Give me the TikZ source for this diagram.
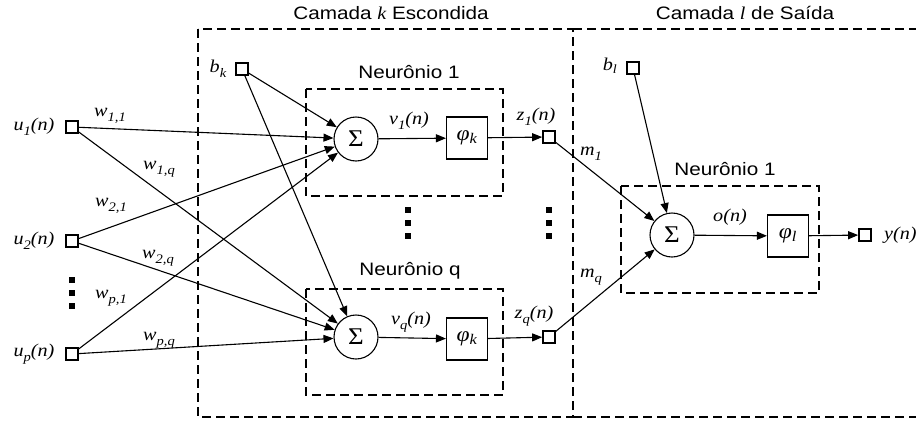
\documentclass[tikz,border=0pt]{standalone}
\usepackage{fontspec}
\setmainfont{Liberation Sans}[FakeStretch=1.15]
\newfontfamily\tm{Liberation Serif}[FakeStretch=1.12]
\usetikzlibrary{arrows.meta}
\newcommand{\ml}[1]{{\tm\itshape #1}}
\newcommand{\sbs}[1]{\raisebox{-0.25em}{\fontsize{13}{13}\selectfont #1}}
\tikzset{
  sqbox/.style={draw, line width=2.2pt, minimum size=11.5pt, inner sep=0pt},
  sig/.style={draw, circle, line width=1.1pt, minimum size=44pt, inner sep=0pt, font=\tm\fontsize{24}{24}\selectfont},
  phib/.style={draw, line width=1.1pt, minimum width=41pt, minimum height=42pt, inner sep=0pt, font=\tm\itshape\fontsize{21}{21}\selectfont},
  dbox/.style={draw, line width=1.4pt, dash pattern=on 9pt off 5pt},
  con/.style={line width=1.1pt},
  arr/.style={con, -{Triangle[length=10pt,width=8pt]}},
  lbl/.style={font=\tm\itshape\fontsize{18}{18}\selectfont, inner sep=0pt},
  ttl/.style={font=\fontsize{18}{18}\selectfont, inner sep=0pt},
  dotm/.style={fill, minimum size=6pt, inner sep=0pt},
}
\begin{document}
\begin{tikzpicture}[x=1pt, y=-1pt]
\useasboundingbox (0,0) rectangle (916,421);
\clip (0,0) rectangle (916,421);
% layer boxes
\draw[dbox] (198,29) rectangle (573,417);
\draw[dbox] (573,29) -- (940,29);
\draw[dbox] (573,417) -- (940,417);
\node[ttl] (t1) at (391,13) {Camada \ml{k} Escondida};
\node[ttl] (t2) at (745,13) {Camada \ml{l} de Saída};
% neuron boxes
\draw[dbox] (306,89) rectangle (503,196);
\draw[dbox] (306,289) rectangle (503,395);
\draw[dbox] (621,186) rectangle (819,293);
\node[ttl] (n1) at (409,72) {Neurônio 1};
\node[ttl] (nq) at (410,271) {Neurônio q};
\node[ttl] (no) at (725,169) {Neurônio 1};
% inputs
\node[sqbox] (u1) at (72,127) {};
\node[sqbox] (u2) at (72,241) {};
\node[sqbox] (up) at (72,354) {};
\node[lbl] (lu1) at (34,127) {u\sbs{1}(n)};
\node[lbl] (lu2) at (34,241) {u\sbs{2}(n)};
\node[lbl] (lup) at (34,354) {u\sbs{p}(n)};
\node[dotm] (d1) at (72,280) {};
\node[dotm] (d2) at (72,293) {};
\node[dotm] (d3) at (72,306) {};
\node[sqbox] (bk) at (242,69) {};
\node[lbl] (lbk) at (218,69) {b\sbs{k}};
% hidden neurons
\node[sig] (s1) at (356,139) {Σ};
\node[phib] (p1) at (467,138) {φ\textsubscript{k}};
\node[sqbox] (z1) at (549,137) {};
\node[sig] (sQ) at (356,337) {Σ};
\node[phib] (pQ) at (467,339) {φ\textsubscript{k}};
\node[sqbox] (zQ) at (549,337) {};
\node[dotm] (e1) at (408,210) {};
\node[dotm] (e2) at (408,223) {};
\node[dotm] (e3) at (408,236) {};
\node[dotm] (f1) at (549,210) {};
\node[dotm] (f2) at (549,223) {};
\node[dotm] (f3) at (549,236) {};
% output neuron
\node[sqbox] (bl) at (633,68) {};
\node[lbl] (lbl1) at (610,66) {b\textsubscript{l}};
\node[sig] (so) at (672,235) {Σ};
\node[phib] (po) at (788,236) {φ\textsubscript{l}};
\node[sqbox] (yy) at (865,235) {};
\node[lbl, anchor=west] (ly) at (884,235) {y(n)};
% connections
\draw[arr] (u1) -- (s1);
\draw[arr] (u1) -- (sQ);
\draw[arr] (u2) -- (s1);
\draw[arr] (u2) -- (sQ);
\draw[arr] (up) -- (s1);
\draw[arr] (up) -- (sQ);
\draw[arr] (bk) -- (s1);
\draw[arr] (bk) -- (sQ);
\draw[arr] (s1) -- (p1);
\draw[arr] (p1) -- (z1);
\draw[arr] (sQ) -- (pQ);
\draw[arr] (pQ) -- (zQ);
\draw[arr] (z1) -- (so);
\draw[arr] (zQ) -- (so);
\draw[arr] (bl) -- (so);
\draw[arr] (so) -- (po);
\draw[arr] (po) -- (yy);
% weight labels
\node[lbl] (w11) at (110,116) {w\sbs{1,1}};
\node[lbl] (w1q) at (159,169) {w\sbs{1,q}};
\node[lbl] (w21) at (111,206) {w\sbs{2,1}};
\node[lbl] (w2q) at (158,258) {w\sbs{2,q}};
\node[lbl] (wp1) at (111,298) {w\sbs{p,1}};
\node[lbl] (wpq) at (159,340) {w\sbs{p,q}};
\node[lbl] (v1) at (409,121) {v\sbs{1}(n)};
\node[lbl] (vq) at (411,322) {v\sbs{q}(n)};
\node[lbl] (lz1) at (536,117) {z\sbs{1}(n)};
\node[lbl] (lzq) at (534,316) {z\sbs{q}(n)};
\node[lbl] (m1) at (591,154) {m\sbs{1}};
\node[lbl] (mq) at (591,277) {m\sbs{q}};
\node[lbl] (on) at (730,217) {o(n)};
\end{tikzpicture}
\end{document}
